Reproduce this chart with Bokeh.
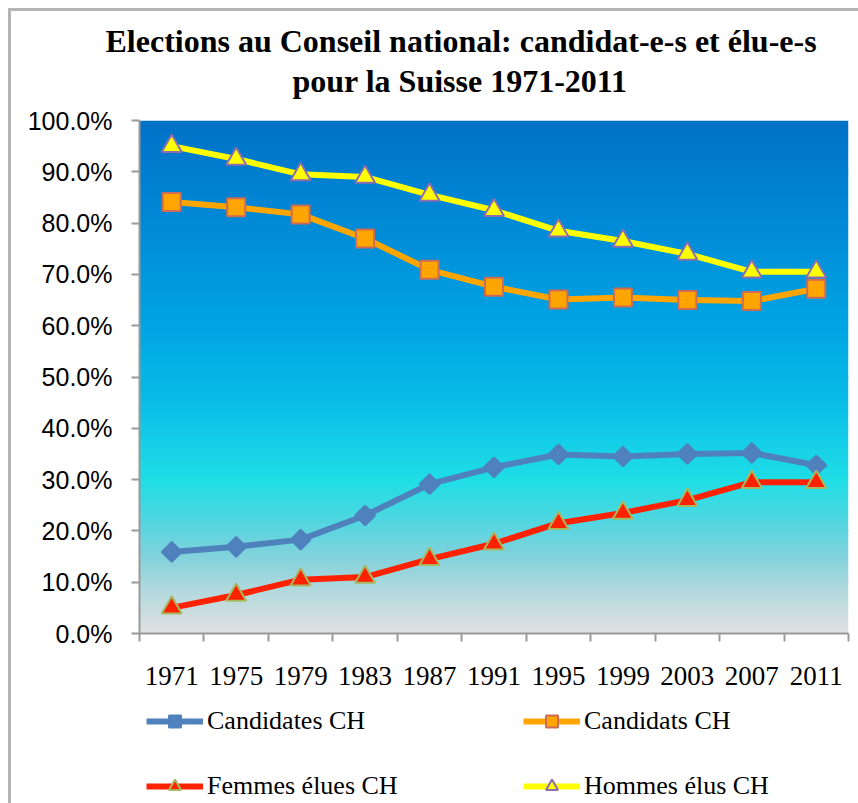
import numpy as np
from bokeh.plotting import figure
from bokeh.layouts import column
from bokeh.models import (Range1d, FixedTicker, PrintfTickFormatter, Legend, LegendItem,
                          Title, ColumnDataSource)
from bokeh.embed import file_html
from bokeh.resources import INLINE

# ---- data ----
years = ["1971", "1975", "1979", "1983", "1987", "1991", "1995", "1999", "2003", "2007", "2011"]
candidates_ch = [15.9, 16.9, 18.3, 23.0, 29.1, 32.4, 34.9, 34.5, 35.0, 35.2, 32.8]
candidats_ch = [84.1, 83.1, 81.7, 77.0, 70.9, 67.6, 65.1, 65.5, 65.0, 64.8, 67.2]
femmes_elues_ch = [5.0, 7.5, 10.5, 11.0, 14.5, 17.5, 21.5, 23.5, 26.0, 29.5, 29.5]
hommes_elus_ch = [95.0, 92.5, 89.5, 89.0, 85.5, 82.5, 78.5, 76.5, 74.0, 70.5, 70.5]
series_labels = ["Candidates CH", "Candidats CH", "Femmes élues CH", "Hommes élus CH"]
y_ticks = [0, 10, 20, 30, 40, 50, 60, 70, 80, 90, 100]

xpos = [i + 0.5 for i in range(len(years))]

# styles per series: (line colour, marker, marker size, angle, fill, marker outline)
styles = [
    ("#4F81BD", "square", 14, np.pi / 4, "#4F81BD", "#4F81BD"),
    ("#FFA500", "square", 18, 0.0, "#FFA500", "#CD6B55"),
    ("#FF2200", "triangle", 20, 0.0, "#FF2200", "#A8B860"),
    ("#FFFF00", "triangle", 20, 0.0, "#FFFF00", "#8C6EB0"),
]

p = figure(width=847, height=689, output_backend="svg", toolbar_location=None,
           x_range=Range1d(0, len(years)), y_range=Range1d(0, 100),
           min_border_left=128, min_border_right=10, min_border_top=109, min_border_bottom=67,
           background_fill_color="white", border_fill_color="white")
p.outline_line_color = None

# titles (second line added first so it sits closest to the plot)
t2 = Title(text="pour la Suisse 1971-2011", align="left", offset=153, text_font="Liberation Serif",
           text_font_size="32px", text_font_style="bold", text_color="black", standoff=43)
t1 = Title(text="Elections au Conseil national: candidat-e-s et élu-e-s", align="left", offset=-34,
           text_font="Liberation Serif", text_font_size="32px", text_font_style="bold",
           text_color="black", standoff=-38)
p.add_layout(t2, "above")
p.add_layout(t1, "above")
p.title.visible = False

# gradient background of the plot area
stops_v = [0, 8, 15, 22, 30, 35, 45, 60, 80, 100]
stops_c = [(225, 225, 225), (180, 218, 222), (130, 210, 220), (80, 215, 225), (30, 222, 230),
           (25, 212, 232), (10, 190, 232), (0, 165, 228), (0, 138, 215), (0, 114, 200)]
n = 256
vv = np.linspace(0, 100, n)
img = np.zeros((n, 1), dtype=np.uint32)
view = img.view(dtype=np.uint8).reshape((n, 1, 4))
for k in range(3):
    view[:, 0, k] = np.interp(vv, stops_v, [c[k] for c in stops_c]).astype(np.uint8)
view[:, 0, 3] = 255
p.image_rgba(image=[img], x=0, y=0, dw=len(years), dh=100)

# grid
p.xgrid.visible = False
p.ygrid.grid_line_color = "#9a9a9a"
p.ygrid.grid_line_width = 2
p.ygrid.ticker = FixedTicker(ticks=y_ticks)

# axes
p.yaxis.ticker = FixedTicker(ticks=y_ticks)
p.yaxis.formatter = PrintfTickFormatter(format="%.1f%%")
p.yaxis.axis_line_color = "#9a9a9a"
p.yaxis.axis_line_width = 2
p.yaxis.major_tick_line_color = "#9a9a9a"
p.yaxis.major_tick_line_width = 2
p.yaxis.major_tick_out = 8
p.yaxis.major_tick_in = 0
p.yaxis.minor_tick_line_color = None
p.yaxis.major_label_text_font = "Liberation Sans"
p.yaxis.major_label_text_font_size = "25px"
p.yaxis.major_label_text_color = "black"
p.yaxis.major_label_standoff = 19

p.xaxis.ticker = FixedTicker(ticks=xpos, minor_ticks=list(range(len(years) + 1)))
p.xaxis.major_label_overrides = {x: y for x, y in zip(xpos, years)}
p.xaxis.axis_line_color = "#9a9a9a"
p.xaxis.axis_line_width = 2
p.xaxis.major_tick_line_color = None
p.xaxis.major_tick_out = 0
p.xaxis.minor_tick_line_color = "#9a9a9a"
p.xaxis.minor_tick_line_width = 2
p.xaxis.minor_tick_out = 8
p.xaxis.minor_tick_in = 0
p.xaxis.major_label_text_font = "Liberation Serif"
p.xaxis.major_label_text_font_size = "27px"
p.xaxis.major_label_text_color = "black"
p.xaxis.major_label_standoff = 25

# series
src = ColumnDataSource(dict(x=xpos, c0=candidates_ch, c1=candidats_ch, c2=femmes_elues_ch, c3=hommes_elus_ch))
for i, (lc, mk, sz, ang, fc, oc) in enumerate(styles):
    p.line("x", f"c{i}", source=src, line_color=lc, line_width=6)
    p.scatter("x", f"c{i}", source=src, marker=mk, angle=ang, size=sz,
              fill_color=fc, line_color=oc, line_width=2)

# legend in its own strip below the chart (its ranges keep the series out of view)
pl = figure(width=847, height=103, output_backend="svg", toolbar_location=None,
            x_axis_type=None, y_axis_type=None, x_range=Range1d(-1000, -999), y_range=Range1d(-1000, -999),
            min_border=0, background_fill_color="white", border_fill_color="white")
pl.outline_line_color = None
pl.grid.visible = False
items = []
for i, (label, (lc, mk, sz, ang, fc, oc)) in enumerate(zip(series_labels, styles)):
    rl = pl.line("x", f"c{i}", source=src, line_color=lc, line_width=6)
    rm = pl.scatter("x", f"c{i}", source=src, marker=mk, angle=ang, size=sz,
                    fill_color=fc, line_color=oc, line_width=2)
    items.append(LegendItem(label=label, renderers=[rl, rm]))

legend = Legend(items=items, orientation="horizontal", ncols=2, location=(7, 2),
                label_text_font="Liberation Serif", label_text_font_size="26px",
                label_text_color="black", glyph_width=57, glyph_height=30, label_height=30,
                label_standoff=4, label_width=281, spacing=35,
                padding=0, margin=0, border_line_color=None, background_fill_alpha=0)
pl.add_layout(legend, "center")

layout = column(p, pl, spacing=0,
                styles={"margin-left": "8px", "margin-top": "8px",
                        "border-left": "3px solid #b4b4b4", "border-top": "3px solid #b4b4b4"})

open("out.html", "w").write(file_html(layout, INLINE))
